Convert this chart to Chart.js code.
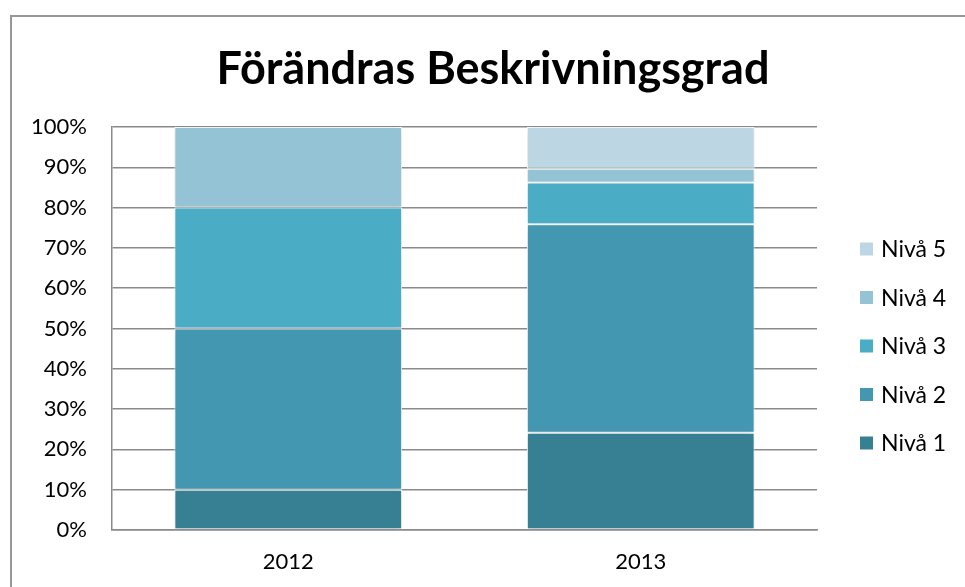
<!DOCTYPE html>
<html>
<head>
<meta charset="utf-8">
<script src="https://cdn.jsdelivr.net/npm/chart.js@4/dist/chart.umd.min.js"></script>
<style>
  html, body { margin: 0; padding: 0; background: #fff; }
  #wrap { position: relative; width: 965px; height: 587px; overflow: hidden; }
  #frame { position: absolute; left: 10px; top: 15px; width: 1000px; height: 1000px; border: 2px solid #979797; box-sizing: border-box; }
  canvas { position: absolute; left: 0; top: 0; }
</style>
</head>
<body>
<div id="wrap">
  <div id="frame"></div>
  <canvas id="c" width="965" height="587"></canvas>
</div>
<script>
const categories = ['2012', '2013'];
const seriesNames = ['Nivå 1', 'Nivå 2', 'Nivå 3', 'Nivå 4', 'Nivå 5'];
const niva1 = [10, 24.14];
const niva2 = [40, 51.72];
const niva3 = [30, 10.34];
const niva4 = [20, 3.45];
const niva5 = [0, 10.34];
const yTicks = [0, 10, 20, 30, 40, 50, 60, 70, 80, 90, 100];
const colors = ['#377F93', '#4397B0', '#4BACC6', '#93C3D4', '#BCD7E3'];
const chartTitle = 'Förändras Beskrivningsgrad';

const FONT = 'Lato, "Open Sans", sans-serif';
const values = [niva1, niva2, niva3, niva4, niva5];

const datasets = seriesNames.map((name, i) => ({
  label: name,
  data: values[i],
  backgroundColor: colors[i],
  borderColor: '#ffffff',
  borderWidth: 1,
  borderSkipped: false,
  categoryPercentage: 1.0,
  barPercentage: 0.646
}));

const titlePlugin = {
  id: 'customTitle',
  afterDraw(chart) {
    const ctx = chart.ctx;
    ctx.save();
    ctx.font = 'bold 45px ' + FONT;
    ctx.fillStyle = '#000';
    ctx.textAlign = 'center';
    ctx.textBaseline = 'alphabetic';
    ctx.fillText(chartTitle, 493, 84);
    ctx.restore();
  }
};

const legendPlugin = {
  id: 'customLegend',
  afterDraw(chart) {
    const ctx = chart.ctx;
    ctx.save();
    const ds = chart.data.datasets;
    const n = ds.length;
    const x0 = 860, size = 13, textX = 881;
    const yTop = 249, step = 48.5;
    ctx.font = '23px ' + FONT;
    ctx.textBaseline = 'middle';
    ctx.textAlign = 'left';
    for (let k = 0; k < n; k++) {
      const d = ds[n - 1 - k];
      const y = yTop + k * step;
      ctx.fillStyle = d.backgroundColor;
      ctx.fillRect(x0, y - size / 2, size, size);
      ctx.fillStyle = '#000';
      ctx.fillText(d.label, textX, y + 1);
    }
    ctx.restore();
  }
};

const shadowPlugin = {
  id: 'barShadow',
  beforeDatasetsDraw(chart) {
    const ctx = chart.ctx;
    ctx.save();
    ctx.shadowColor = 'rgba(0,0,0,0.18)';
    ctx.shadowBlur = 5;
    ctx.shadowOffsetX = 0;
    ctx.shadowOffsetY = 1;
  },
  afterDatasetsDraw(chart) {
    chart.ctx.restore();
  }
};

new Chart(document.getElementById('c'), {
  type: 'bar',
  data: { labels: categories, datasets },
  options: {
    responsive: false,
    animation: false,
    layout: { padding: { left: 0, right: 148, top: 127, bottom: 0 } },
    plugins: {
      legend: { display: false },
      tooltip: { enabled: false },
      title: { display: false }
    },
    scales: {
      x: {
        stacked: true,
        grid: { display: false, drawTicks: false },
        border: { display: true, color: '#8a8a8a', width: 1.5 },
        ticks: { color: '#000', font: { family: FONT, size: 22 }, padding: 19, maxRotation: 0 },
        afterFit(s) { s.height = 57; }
      },
      y: {
        stacked: true,
        min: 0, max: 100,
        afterBuildTicks(s) { s.ticks = yTicks.map(v => ({ value: v })); },
        grid: { color: '#8a8a8a', lineWidth: 1.5, drawTicks: false },
        border: { display: true, color: '#8a8a8a', width: 1.5 },
        ticks: { color: '#000', font: { family: FONT, size: 22 }, padding: 25, callback: v => v + '%' },
        afterFit(s) { s.width = 112; }
      }
    }
  },
  plugins: [shadowPlugin, legendPlugin, titlePlugin]
});
</script>
</body>
</html>
